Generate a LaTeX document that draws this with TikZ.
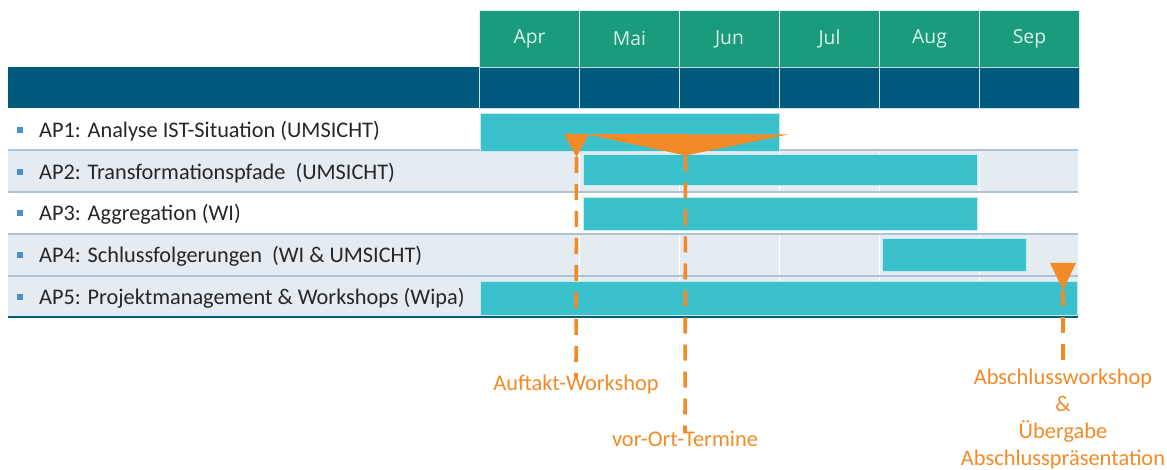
\documentclass[tikz,border=0pt]{standalone}
\usepackage{fontspec}
\setmainfont{Carlito}
\newfontfamily\monthfont{Open Sans}
\definecolor{hdrgreen}{HTML}{1A9C7C}
\definecolor{hdrblue}{HTML}{005A7D}
\definecolor{rowshade}{HTML}{E4ECF1}
\definecolor{rowline}{HTML}{AFC3D2}
\definecolor{barcyan}{HTML}{3BC1CC}
\definecolor{msorange}{HTML}{F28A27}
\definecolor{bulletblue}{HTML}{4A90D0}
\definecolor{monthtxt}{HTML}{DDF1EB}
\definecolor{labeltxt}{HTML}{262626}
\tikzset{
  monthcell/.style={draw=white!85!hdrgreen, line width=1pt, fill=hdrgreen, anchor=north west,
    inner sep=0pt, minimum width=100pt, minimum height=57pt,
    font=\monthfont\fontsize{19.3}{22}\selectfont, text=monthtxt},
  bandcell/.style={draw=white!80!hdrblue, line width=1pt, fill=hdrblue, anchor=north west,
    inner sep=0pt, minimum width=100pt, minimum height=41pt},
  taskbar/.style={fill=barcyan, draw=white!70!barcyan, line width=0.8pt, anchor=north west, inner sep=0pt},
  tasklabel/.style={anchor=west, inner sep=0pt, text=labeltxt, font=\fontsize{22.3}{26}\selectfont},
  bulletsq/.style={fill=bulletblue, inner sep=0pt, minimum size=6pt},
  msmark/.style={fill=msorange},
  msline/.style={draw=msorange, line width=3.6pt, dash pattern=on 16pt off 11pt},
  mslabel/.style={text=msorange, align=center, inner sep=0pt, font=\fontsize{22.4}{27}\selectfont},
}
\begin{document}
\begin{tikzpicture}[x=1pt,y=-1pt]
\useasboundingbox (0,0) rectangle (1167,470);

% shaded rows and dark header band on the left
\fill[hdrblue] (8,67) rectangle (479,108);
\fill[rowshade] (8,150) rectangle (1078,192);
\fill[rowshade] (8,234) rectangle (1078,276);
\fill[rowshade] (8,276) rectangle (1078,317);

% month grid lines in the body
\foreach \gx in {579,679,779,879,979}
  \draw[white, line width=1pt] (\gx,108) -- (\gx,317);

% row separators
\foreach \gy in {150,192,234,276}
  \draw[rowline, line width=1.4pt] (8,\gy) -- (1078,\gy);
\draw[hdrblue, line width=2.8pt] (8,317) -- (1078,317);

% month header
\foreach \m [count=\i from 0] in {Apr,Mai,Jun,Jul,Aug,Sep} {
  \node[monthcell] (m\i) at (479+100*\i,10) {\m};
  \node[bandcell] (b\i) at (479+100*\i,67) {};
}

% task labels
\foreach \t/\cy [count=\k] in {
  {AP1: Analyse IST-Situation (UMSICHT)}/130,
  {AP2: Transformationspfade\ \ (UMSICHT)}/172,
  {AP3: Aggregation (WI)}/213,
  {AP4: Schlussfolgerungen\ \ (WI \& UMSICHT)}/255,
  {AP5: Projektmanagement \& Workshops (Wipa)}/297} {
  \node[bulletsq] (bul\k) at (19.5,\cy) {};
  \node[tasklabel] (lab\k) at (39,\cy+1) {\t};
}

% task bars
\node[taskbar, minimum width=299pt, minimum height=38pt] (ap1) at (480,113) {};
\node[taskbar, minimum width=394pt, minimum height=31pt] (ap2) at (583,154) {};
\node[taskbar, minimum width=394pt, minimum height=33pt] (ap3) at (583,197) {};
\node[taskbar, minimum width=144pt, minimum height=33pt] (ap4) at (882,238) {};
\node[taskbar, minimum width=597pt, minimum height=34pt] (ap5) at (480,281) {};

% milestone markers
\coordinate (k1) at (576.5,157);
\coordinate (k2) at (685.5,155.5);
\coordinate (k3) at (1063,290);
\fill[msmark] (564,134) -- (589,134) -- (k1) -- cycle;
\fill[msmark] (586,134) -- (788,134.5) -- (k2) -- cycle;
\fill[msmark] (1050,263) -- (1076,263) -- (k3) -- cycle;

% milestone labels
\node[mslabel] (w1) at (576,385) {Auftakt-Workshop};
\node[mslabel] (w2) at (685,439) {vor-Ort-Termine};
\node[mslabel, anchor=north] (w3) at (1063,369) {Abschlussworkshop\\\&\\Übergabe\\Abschlusspräsentation};

% dashed connectors
\draw[msline] (k1) -- ([yshift=-2pt]w1.north);
\draw[msline] (k2) -- ([yshift=-2pt]w2.north);
\draw[msline] (k3) -- ([yshift=-2pt]w3.north);
\end{tikzpicture}
\end{document}
